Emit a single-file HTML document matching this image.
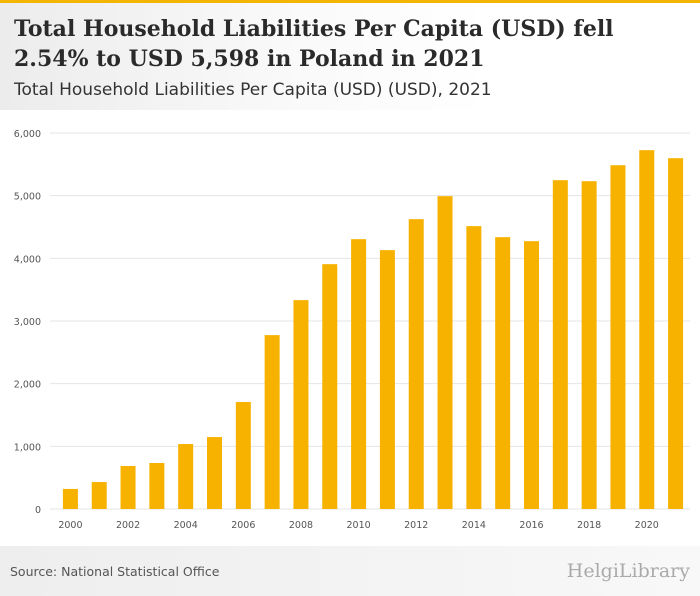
<!DOCTYPE html>
<html><head><meta charset="utf-8"><style>
body{margin:0;width:700px;height:596px;overflow:hidden;background:#fff;font-family:"DejaVu Sans",sans-serif;position:relative}
#topbar{position:absolute;left:0;top:0;width:700px;height:3px;background:#f5b400}
#header{position:absolute;left:0;top:3px;width:700px;height:107px;background:linear-gradient(90deg,#ececec 0%,#f9f9f9 40%,#fff 70%)}
#title{position:absolute;left:14px;top:14px;font-family:"DejaVu Serif",serif;font-weight:bold;font-size:22px;line-height:30px;color:#2a2a2a;white-space:nowrap}
#subtitle{position:absolute;left:14px;top:80px;font-size:17px;color:#333;white-space:nowrap}
#footer{position:absolute;left:0;top:546px;width:700px;height:50px;background:linear-gradient(90deg,#eee,#f8f8f8)}
#source{position:absolute;left:10px;top:564px;font-size:12.5px;color:#555}
#logo{position:absolute;right:10px;top:560px;font-size:19px;color:#aaa;font-family:"DejaVu Serif",serif}
</style></head><body>
<div id="topbar"></div>
<div id="header"></div>
<div id="title">Total Household Liabilities Per Capita (USD) fell<br>2.54% to USD 5,598 in Poland in 2021</div>
<div id="subtitle">Total Household Liabilities Per Capita (USD) (USD), 2021</div>
<svg id="chart" width="700" height="596" style="position:absolute;left:0;top:0"></svg>
<div id="footer"></div>
<div id="source">Source: National Statistical Office</div>
<div id="logo">HelgiLibrary</div>
<script>
const years=[2000,2001,2002,2003,2004,2005,2006,2007,2008,2009,2010,2011,2012,2013,2014,2015,2016,2017,2018,2019,2020,2021];
const values=[320,430,686,734,1037,1148,1707,2775,3333,3907,4306,4131,4625,4992,4514,4338,4274,5247,5231,5486,5726,5598];
const yTicks=[0,1000,2000,3000,4000,5000,6000];
const svg=document.getElementById('chart');
const NS='http://www.w3.org/2000/svg';
const x0=56,x1=690,yBase=509,yTop=133,yMax=6000;
const y=v=>yBase-(v/yMax)*(yBase-yTop);
const step=(x1-x0)/years.length;
const xc=i=>x0+step*(i+0.5);
function mk(t,a){const e=document.createElementNS(NS,t);for(const k in a)e.setAttribute(k,a[k]);svg.appendChild(e);return e;}
yTicks.forEach(v=>{
 const l=mk('line',{x1:50,x2:690,y1:y(v),y2:y(v),stroke:'#e4e4e4','stroke-width':1});
 
 
 const t=mk('text',{x:41,y:y(v)+4,'text-anchor':'end','font-size':9.5,fill:'#555','font-family':'DejaVu Sans, sans-serif'});
 t.textContent=v.toLocaleString('en-US');
 
 
});
values.forEach((v,i)=>{
 const r=mk('rect',{x:xc(i)-7.5,y:y(v),width:15,height:yBase-y(v),fill:'#f7b200'});
 
 
});
years.forEach((yr,i)=>{
 if(yr%2)return;
 const t=mk('text',{x:xc(i),y:528,'text-anchor':'middle','font-size':9.5,fill:'#555','font-family':'DejaVu Sans, sans-serif'});
 t.textContent=yr;
 
 
});
</script>
</body></html>
